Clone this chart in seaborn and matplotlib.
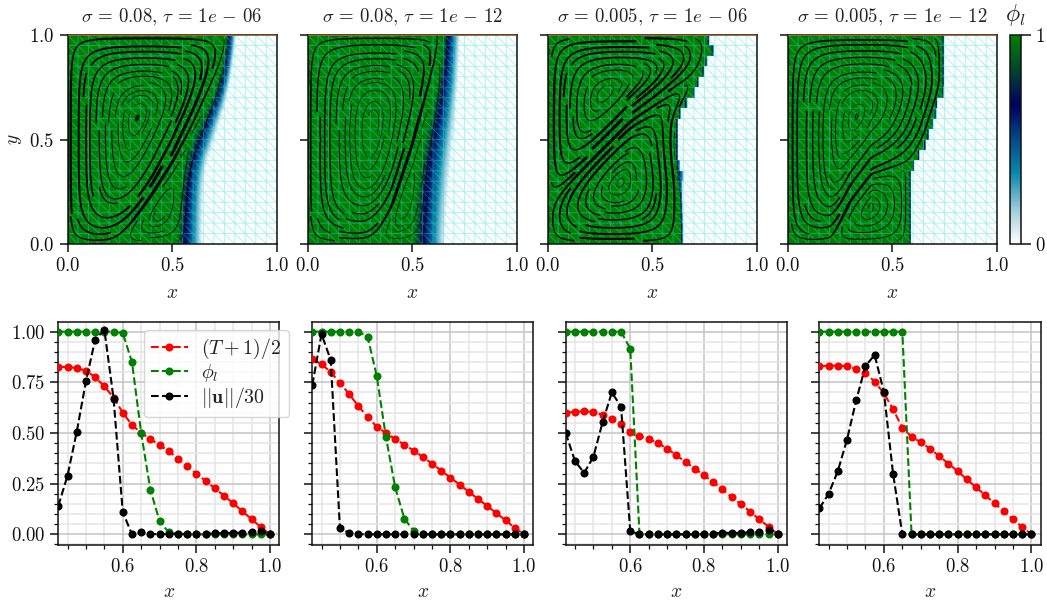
import numpy as np
import matplotlib
matplotlib.use("Agg")
import matplotlib.pyplot as plt
import matplotlib.tri as mtri
from matplotlib.colors import LinearSegmentedColormap
from matplotlib.ticker import MultipleLocator
import seaborn as sns

W, H = 1047, 604

titles = [r"$\sigma\,=\,0.08,\,\tau\,=\,1e\,-\,06$", r"$\sigma\,=\,0.08,\,\tau\,=\,1e\,-\,12$",
          r"$\sigma\,=\,0.005,\,\tau\,=\,1e\,-\,06$", r"$\sigma\,=\,0.005,\,\tau\,=\,1e\,-\,12$"]

# ---- top row: phi_l field, one front / rear position for each of 20 rows in y
front1 = [.52,.522,.525,.528,.532,.537,.545,.555,.568,.585,.605,.63,.655,.678,.698,.715,.728,.738,.746,.752]
rear1 = [.64,.641,.642,.643,.645,.648,.652,.66,.672,.69,.705,.72,.735,.75,.762,.772,.78,.787,.793,.798]
front2 = [.50,.502,.505,.508,.512,.517,.523,.53,.54,.55,.562,.575,.587,.598,.608,.617,.625,.632,.638,.642]
rear2 = [.655,.657,.66,.663,.667,.671,.675,.68,.685,.69,.695,.70,.704,.708,.712,.716,.718,.72,.722,.724]
front3 = [.632,.632,.631,.630,.628,.622,.612,.610,.608,.608,.608,.608,.622,.652,.688,.708,.733,.748,.778,.758]
rear3 = [.644,.644,.643,.642,.641,.642,.650,.632,.622,.622,.622,.622,.636,.666,.702,.722,.747,.762,.792,.772]
front4 = [.58,.58,.58,.58,.58,.58,.58,.595,.62,.65,.665,.685,.70,.705,.735,.738,.738,.738,.738,.738]
rear4 = [.592,.592,.592,.592,.592,.592,.592,.607,.632,.662,.677,.697,.712,.717,.747,.75,.75,.75,.75,.75]
fronts = [front1, front2, front3, front4]
rears = [rear1, rear2, rear3, rear4]
smooth = [True, True, False, False]

# dividing line between the main cell and the weaker lower cell, at x = 0, .1, ... 1
arch_x = [0, .1, .2, .3, .4, .5, .6, .7, .8, .9, 1]
arch1 = [-.3, -.2, -.05, .08, .22, .38, .58, .80, 1.05, 1.3, 1.5]
arch2 = [-.6, -.5, -.35, -.05, .15, .45, .85, 1.3, 1.6, 1.9, 2.2]
arch3 = [.20, .30, .40, .50, .60, .67, .74, .80, .90, 1.1, 1.3]
arch4 = [-.2, -.1, -.02, .2, .33, .36, .38, .40, .45, .5, .55]
arches = [arch1, arch2, arch3, arch4]
upper_strength = [1.0, 1.0, 1.0, 1.0]
lower_strength = [.22, .12, .95, .38]

# ---- bottom row: profiles along the line
x_line = [.425,.45,.475,.5,.525,.55,.575,.6,.625,.65,.675,.7,.725,.75,.775,.8,.825,.85,.875,.9,.925,.95,.975,1.0]

T1 = [.826,.826,.82,.808,.775,.73,.675,.60,.54,.50,.47,.44,.41,.373,.335,.30,.263,.227,.19,.153,.113,.075,.035,0]
P1 = [1,1,1,1,1,1,1,.993,.85,.50,.22,.065,.01,.002,0,0,0,0,0,0,0,0,0,0]
U1 = [.14,.29,.505,.755,.96,1.01,.67,.11,0,.01,.003,0,.002,.002,.002,.002,.003,.005,.006,.008,.008,.01,.015,0]

T2 = [.863,.84,.80,.747,.692,.633,.579,.531,.50,.47,.442,.413,.382,.349,.314,.28,.245,.21,.174,.14,.104,.069,.031,0]
P2 = [1,1,1,1,1,1,.975,.781,.479,.232,.077,.018,.002,0,0,0,0,0,0,0,0,0,0,0]
U2 = [.737,.988,.86,.03,.007,.001,0,0,0,0,0,0,0,0,0,0,0,0,0,0,0,0,0,0]

T3 = [.60,.605,.607,.604,.589,.571,.543,.503,.485,.47,.45,.423,.39,.357,.324,.291,.257,.222,.184,.148,.112,.074,.038,0]
P3 = [1,1,1,1,1,1,1,.916,.003,0,0,0,0,0,0,0,0,0,0,0,0,0,0,0]
U3 = [.50,.362,.303,.382,.553,.70,.63,.016,0,0,0,0,0,0,0,.003,.004,.008,.007,.007,.01,.01,.022,0]

T4 = [.83,.832,.832,.83,.816,.798,.753,.696,.617,.525,.482,.454,.423,.385,.349,.311,.271,.232,.192,.153,.113,.074,.036,0]
P4 = [1,1,1,1,1,1,1,1,1,1,0,0,0,0,0,0,0,0,0,0,0,0,0,0]
U4 = [.128,.199,.311,.467,.661,.83,.885,.702,.298,0,0,0,0,0,0,0,0,0,0,0,0,0,0,0]

profiles = [(T1, P1, U1), (T2, P2, U2), (T3, P3, U3), (T4, P4, U4)]
series_labels = [r"$(T+1)/2$", r"$\phi_l$", r"$||\mathbf{u}||/30$"]
series_colors = ["red", "green", "black"]

sns.set_style("ticks")
plt.rcParams.update({
    "font.family": ["DejaVu Serif"],
    "mathtext.fontset": "cm",
    "axes.linewidth": 1.1,
    "axes.edgecolor": "#111111",
    "xtick.color": "#111111", "ytick.color": "#111111",
    "text.color": "#222222", "axes.labelcolor": "#222222",
})
phi_cmap = LinearSegmentedColormap.from_list("phi", [
    (0, "#ffffff"), (.15, "#a8d0e0"), (.34, "#0a86aa"), (.5, "#044a88"),
    (.667, "#00005e"), (.8, "#003838"), (1, "#008000")])

fig = plt.figure(figsize=(W / 100, H / 100), dpi=100)


def box(l, t, r, b):
    return fig.add_axes([l / W, 1 - b / H, (r - l) / W, (b - t) / H])


top_boxes = [(67.5, 35, 276.7, 244), (307.5, 35, 516.7, 244), (547.7, 35, 756.7, 244), (787.7, 35, 996.7, 244)]
bottom_boxes = [(58.3, 321.7, 279.3, 545), (312.3, 321.7, 533.3, 545), (565.7, 321.7, 787, 545), (819.3, 321.7, 1040.7, 545)]

# mesh
n = 20
nodes = np.arange(n + 1) / n
mx, my = [a.ravel() for a in np.meshgrid(nodes, nodes)]
tris = []
for j in range(n):
    for i in range(n):
        a = j * (n + 1) + i
        b, c, d = a + 1, a + n + 1, a + n + 2
        tris += [[a, b, c], [b, d, c]]
mesh = mtri.Triangulation(mx, my, tris)

y_rows = (np.arange(20) + .5) / 20
xs = np.linspace(0, 1, 501)
gx = np.linspace(0, 1, 201)
gy = np.linspace(0, 1, 201)
GX, GY = np.meshgrid(gx, gy)

for k, bx in enumerate(top_boxes):
    ax = box(*bx)
    fr, re = np.array(fronts[k]), np.array(rears[k])
    phi = np.clip((re[:, None] - xs[None, :]) / (re - fr)[:, None], 0, 1)
    im = ax.imshow(phi, origin="lower", extent=[0, 1, 0, 1], aspect="auto", cmap=phi_cmap,
                   vmin=0, vmax=1, interpolation="bilinear" if smooth[k] else "nearest")
    ax.triplot(mesh, color="#30e0e0", lw=.7, alpha=.4)

    # flow: streamfunction confined to the liquid part of the cavity
    f = np.interp(gy, y_rows, (fr + re) / 2 - .015)
    f = np.convolve(np.pad(f, 15, mode="edge"), np.ones(31) / 31, mode="valid")[:, None]
    d = .15
    wall = (np.tanh(GX / d) * np.tanh(GY / d) * np.tanh((1 - GY) / d)
            * np.tanh(np.clip(f - GX, 0, None) / d))
    sep = np.interp(gx, arch_x, arches[k])[None, :]
    side = np.tanh((GY - sep) / .12)
    psi = wall * np.where(side > 0, upper_strength[k] * side, lower_strength[k] * side)
    dy, dx = np.gradient(psi, gy, gx)
    u, v = dy, -dx
    speed = np.hypot(u, v)
    ax.streamplot(gx, gy, u, v, density=1.15, color="black", arrowstyle="-",
                  linewidth=2.1 * (speed / speed.max()) ** .75 + .25)
    ax.plot([0, 1], [1, 1], color="#c87810", lw=1.2, clip_on=True, zorder=5)

    ax.set_xlim(0, 1)
    ax.set_ylim(0, 1)
    ax.set_xticks([0, .5, 1], [r"$0.0$", r"$0.5$", r"$1.0$"])
    ax.set_yticks([0, .5, 1], [r"$0.0$", r"$0.5$", r"$1.0$"] if k == 0 else [])
    ax.tick_params(length=5.5, width=1.1, labelsize=13.5, pad=4)
    ax.set_xlabel(r"$x$", fontsize=14, labelpad=6)
    if k == 0:
        ax.set_ylabel(r"$y$", fontsize=14, labelpad=4)
    ax.set_title(titles[k], fontsize=13.5, pad=9)

cax = box(1009.5, 35, 1020.7, 244)
cb = fig.colorbar(im, cax=cax, ticks=[0, 1])
cb.ax.set_yticklabels([r"$0$", r"$1$"])
cb.ax.tick_params(length=7, width=1.1, labelsize=13.5, pad=3)
cb.outline.set_linewidth(1.1)
cax.set_title(r"$\phi_l$", fontsize=17, pad=10)

for k, bx in enumerate(bottom_boxes):
    ax = box(*bx)
    for vals, lab, col in zip(profiles[k], series_labels, series_colors):
        sns.lineplot(x=x_line, y=vals, ax=ax, color=col, label=lab if k == 0 else None,
                     linestyle="--", linewidth=1.5, marker="o", markersize=5.8,
                     markeredgewidth=0, legend=k == 0, sort=False, errorbar=None, zorder=3)
    ax.set_xlim(.425, 1.025)
    ax.set_ylim(-.0526, 1.049)
    ax.xaxis.set_minor_locator(MultipleLocator(.05))
    ax.yaxis.set_minor_locator(MultipleLocator(.05))
    ax.set_xticks([.6, .8, 1.0], [r"$0.6$", r"$0.8$", r"$1.0$"])
    ax.set_yticks([0, .25, .5, .75, 1], [r"$0.00$", r"$0.25$", r"$0.50$", r"$0.75$", r"$1.00$"] if k == 0 else [])
    ax.grid(True, which="major", color="#c4c4c4", lw=1.1)
    ax.grid(True, which="minor", color="#e6e6e6", lw=1.1)
    ax.set_axisbelow(True)
    ax.tick_params(which="major", length=5.5, width=1.1, labelsize=13.5, pad=4)
    ax.tick_params(which="minor", length=3.2, width=.9)
    ax.set_xlabel(r"$x$", fontsize=14, labelpad=5)
    if k == 0:
        leg = ax.legend(loc="upper left", bbox_to_anchor=(.387, .963), borderaxespad=0, fontsize=14.3,
                        framealpha=.8, fancybox=True, handlelength=1.85, labelspacing=.05,
                        handletextpad=.7, borderpad=.35)

fig.savefig("out.png", dpi=100)
